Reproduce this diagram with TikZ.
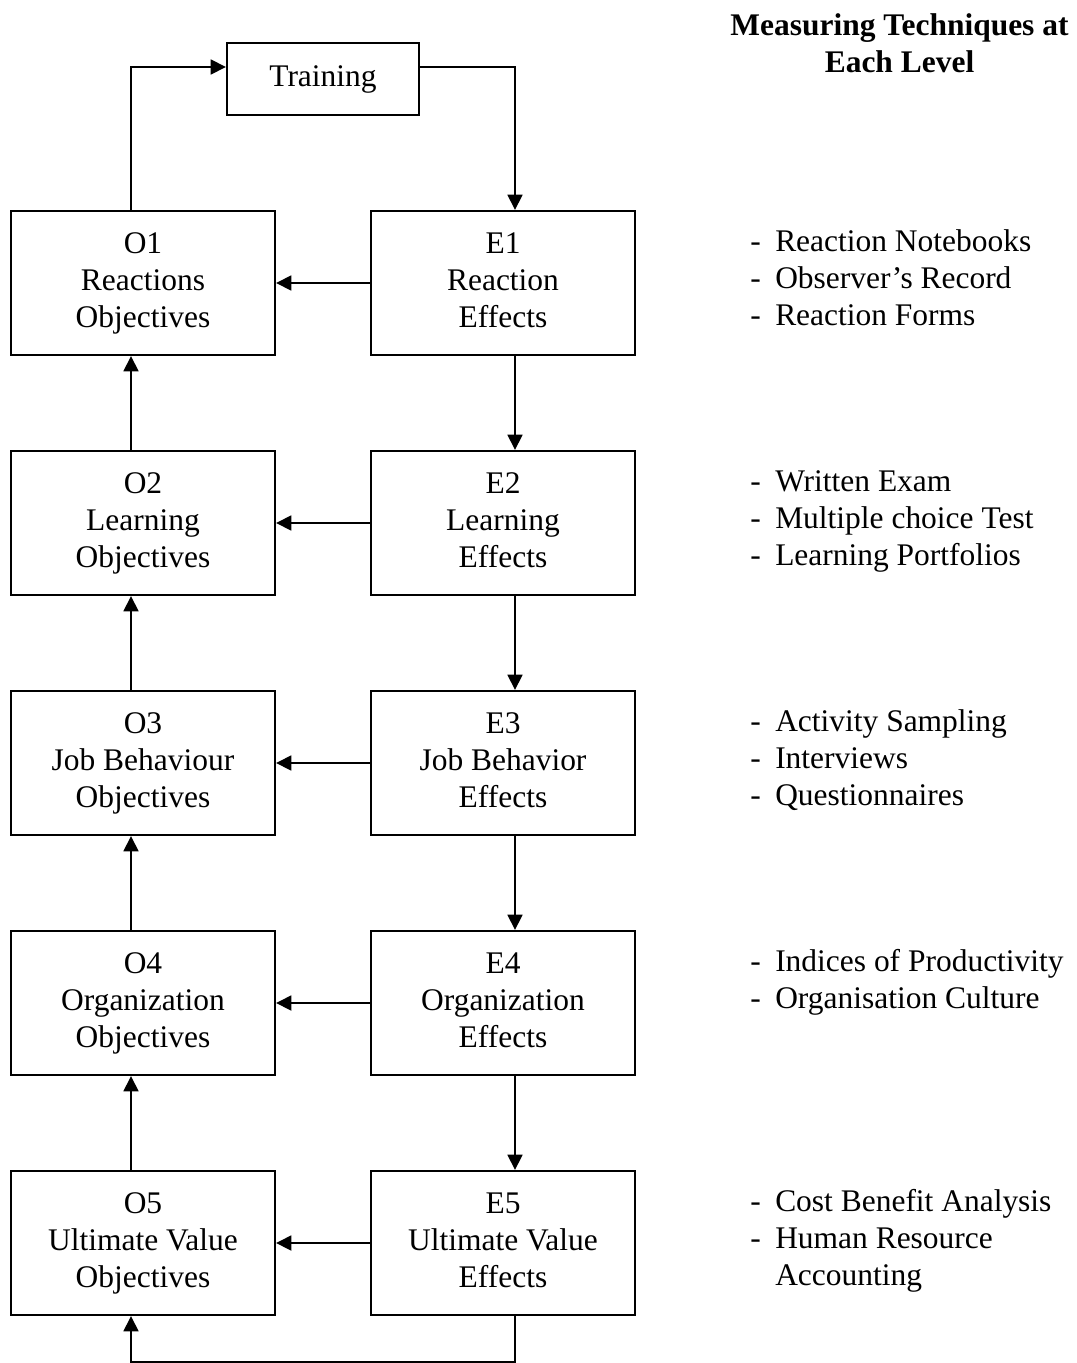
\documentclass[tikz,border=0pt]{standalone}
\usepackage{fontspec}
\setmainfont{Liberation Serif}
\usetikzlibrary{arrows.meta}
\newcommand{\itm}[1]{\makebox[18.75pt][l]{-}#1}
\begin{document}
\begin{tikzpicture}[x=0.75pt,y=-0.75pt,
  txt/.style={font=\fontsize{23.6pt}{27.75pt}\selectfont},
  box/.style={txt,draw,line width=1.5pt,minimum width=198pt,minimum height=108pt,inner sep=0pt,align=center},
  trbox/.style={txt,draw,line width=1.5pt,minimum width=144pt,minimum height=54pt,inner sep=0pt},
  arr/.style={line width=2.1pt,-{Triangle[length=11.5pt,width=11pt]}},
  lst/.style={txt,anchor=north west,inner sep=0pt,align=left},
]
\useasboundingbox (0,0) rectangle (1076,1363);

% title
\node[txt,font=\fontsize{23.6pt}{27.75pt}\selectfont\bfseries,anchor=north,inner sep=0pt,align=center] (title) at (899.5,9.1) {\strut Measuring Techniques at\\Each Level};

% training
\node[trbox] (T) at (323,79) {\strut Training};

% boxes
\node[box] (O1) at (143,283) {\strut O1\\Reactions\\Objectives\strut};
\node[box] (E1) at (503,283) {\strut E1\\Reaction\\Effects\strut};
\node[box] (O2) at (143,523) {\strut O2\\Learning\\Objectives\strut};
\node[box] (E2) at (503,523) {\strut E2\\Learning\\Effects\strut};
\node[box] (O3) at (143,763) {\strut O3\\Job Behaviour\\Objectives\strut};
\node[box] (E3) at (503,763) {\strut E3\\Job Behavior\\Effects\strut};
\node[box] (O4) at (143,1003) {\strut O4\\Organization\\Objectives\strut};
\node[box] (E4) at (503,1003) {\strut E4\\Organization\\Effects\strut};
\node[box] (O5) at (143,1243) {\strut O5\\Ultimate Value\\Objectives\strut};
\node[box] (E5) at (503,1243) {\strut E5\\Ultimate Value\\Effects\strut};

% lists
\node[lst] (L1) at (750,225.1) {\strut\itm{Reaction Notebooks}\\\itm{Observer’s Record}\\\itm{Reaction Forms}};
\node[lst] (L2) at (750,465.1) {\strut\itm{Written Exam}\\\itm{Multiple choice Test}\\\itm{Learning Portfolios}};
\node[lst] (L3) at (750,705.1) {\strut\itm{Activity Sampling}\\\itm{Interviews}\\\itm{Questionnaires}};
\node[lst] (L4) at (750,945.1) {\strut\itm{Indices of Productivity}\\\itm{Organisation Culture}};
\node[lst] (L5) at (750,1185.1) {\strut\itm{Cost Benefit Analysis}\\\itm{Human Resource}\\\hspace*{18.75pt}Accounting};

% horizontal arrows
\foreach \i in {1,...,5} {
  \draw[arr] (E\i.west) -- (O\i.east);
}
% vertical arrows
\foreach \i/\j in {1/2,2/3,3/4,4/5} {
  \draw[arr] ([xshift=9pt]E\i.south) -- ([xshift=9pt]E\j.north);
  \draw[arr] ([xshift=-9pt]O\j.north) -- ([xshift=-9pt]O\i.south);
}
% top loop
\draw[arr] ([xshift=-9pt]O1.north) |- ([yshift=9pt]T.west);
\draw[arr] ([yshift=9pt]T.east) -| ([xshift=9pt]E1.north);
% bottom loop
\coordinate (br) at (515,1362.5);
\coordinate (bl) at (131,1362.5);
\draw[arr] ([xshift=9pt]E5.south) -- (br) -- (bl) -- ([xshift=-9pt]O5.south);
\end{tikzpicture}
\end{document}
